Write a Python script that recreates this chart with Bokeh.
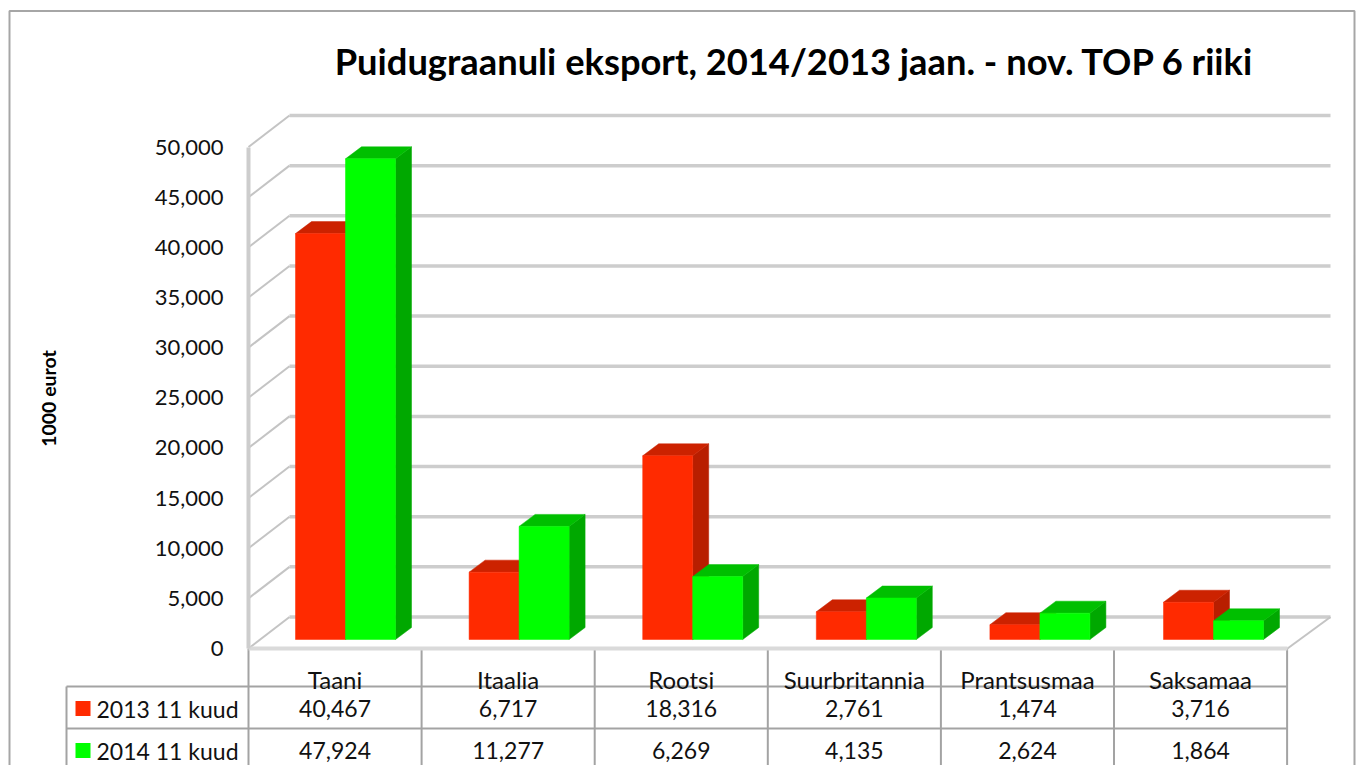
from bokeh.core.properties import value
from bokeh.embed import file_html
from bokeh.models import FixedTicker, LinearAxis, NumeralTickFormatter, Range1d
from bokeh.plotting import figure
from bokeh.resources import INLINE
import math

# ---- data ----
categories = ["Taani", "Itaalia", "Rootsi", "Suurbritannia", "Prantsusmaa", "Saksamaa"]
series_2013 = [40467, 6717, 18316, 2761, 1474, 3716]
series_2014 = [47924, 11277, 6269, 4135, 2624, 1864]
series_names = ["2013 11 kuud", "2014 11 kuud"]
y_ticks = [0, 5000, 10000, 15000, 20000, 25000, 30000, 35000, 40000, 45000, 50000]
title_text = "Puidugraanuli eksport, 2014/2013 jaan. - nov. TOP 6 riiki"
y_title = "1000 eurot"

# ---- geometry (page pixels) ----
W, H = 1361, 765
PX0, PY0 = 0, 0            # page offset of figure
AX_X, AX_Y = 248, 648      # page position of (0, 0)
SLOT = 173.1               # px per category
VPP = 1 / 0.01003          # value per px
UPP = 1 / SLOT             # category unit per px

xr = Range1d((PX0 - AX_X) * UPP, (PX0 + W - AX_X) * UPP)
yr = Range1d((AX_Y - (PY0 + H)) * VPP, (AX_Y - PY0) * VPP)

def ux(px):  # px offset from axis origin -> data
    return px * UPP

def vy(px):  # px upward from axis origin -> data
    return px * VPP

FONT = "Lato"
RED, RED_TOP, RED_SIDE = "#ff2a00", "#cc2200", "#b81e00"
GRN, GRN_TOP, GRN_SIDE = "#00ff00", "#00bf00", "#00a800"
WALL = "#cdcdcd"
TABLE = "#a3a3a3"

p = figure(width=W, height=H, x_range=xr, y_range=yr, output_backend="svg",
           toolbar_location=None, x_axis_location=None, y_axis_location=None,
           min_border=0, outline_line_color=None, background_fill_color="white",
           border_fill_color="white")
p.grid.visible = False
p.styles = {"position": "absolute", "left": "0px", "top": "0px"}

# chart frame
left, right = ux(9 - AX_X), ux(1354 - AX_X)
top, bottom = vy(AX_Y - 10.5), yr.start
p.line([left, left, right, right], [bottom, top, top, bottom], line_color="#a6a6a6", line_width=2)

# back wall grid + side wall diagonals
DX, DY = ux(41), vy(31.5)
BACK_R = ux(1330 - AX_X)
p.multi_line([[DX, BACK_R] for _ in y_ticks], [[t + DY, t + DY] for t in y_ticks],
             line_color=WALL, line_width=3.5)
p.multi_line([[0, DX] for _ in y_ticks], [[t, t + DY] for t in y_ticks],
             line_color="#c4c4c4", line_width=2)
# floor right edge
FR = ux(1287 - AX_X)
p.line([FR, BACK_R], [0, DY], line_color="#c4c4c4", line_width=2)

# bars
BAR_W = ux(50)
B0 = ux(295 - AX_X)
PITCH = 173.6 / SLOT
BASE = vy(9)
BD_X, BD_Y = ux(16), vy(12)

def bar(x0, v, front, top_c, side):
    x1 = x0 + BAR_W
    y0, y1 = BASE, BASE + v
    p.patch([x1, x1 + BD_X, x1 + BD_X, x1], [y0, y0 + BD_Y, y1 + BD_Y, y1], color=side, line_width=0.5)
    p.patch([x0, x1, x1 + BD_X, x0 + BD_X], [y1, y1, y1 + BD_Y, y1 + BD_Y], color=top_c, line_width=0.5)
    p.quad(left=x0, right=x1, bottom=y0, top=y1, fill_color=front, line_color=front, line_width=0.5)

for i, cat in enumerate(categories):
    x = B0 + i * PITCH
    bar(x, series_2013[i], RED, RED_TOP, RED_SIDE)
    bar(x + BAR_W, series_2014[i], GRN, GRN_TOP, GRN_SIDE)

# table
n = len(categories)
y_hdr, y_r1 = vy(AX_Y - 686), vy(AX_Y - 728)
T_LEFT = ux(66 - AX_X)
p.multi_line([[i, i] for i in range(n + 1)], [[0, bottom] for _ in range(n + 1)],
             line_color=TABLE, line_width=2)
p.multi_line([[T_LEFT, T_LEFT], [T_LEFT, n], [T_LEFT, n]],
             [[y_hdr, bottom], [y_hdr, y_hdr], [y_r1, y_r1]],
             line_color=TABLE, line_width=2)

y_row = [vy(AX_Y - 708), vy(AX_Y - 750)]
for j, (vals, name, col) in enumerate(zip([series_2013, series_2014], series_names, [RED, GRN])):
    p.text([k + 0.5 for k in range(n)], [y_row[j]] * n, text=[f"{v:,}" for v in vals],
           text_font=value(FONT), text_font_size="23px", text_color="#111111",
           text_align="center", text_baseline="middle")
    p.text([ux(96 - AX_X)], [y_row[j]], text=[name], text_font=value(FONT), text_font_size="23px",
           text_color="#111111", text_align="left", text_baseline="middle")
    p.quad(left=ux(75 - AX_X), right=ux(90 - AX_X), bottom=y_row[j] - vy(7.5), top=y_row[j] + vy(7.5),
           fill_color=col, line_color=None)

# real axes, pinned to the front corner of the 3-D box
yax = LinearAxis(fixed_location=0, ticker=FixedTicker(ticks=y_ticks), bounds=(0, 50000),
                 formatter=NumeralTickFormatter(format="0,0"))
yax.axis_line_color = WALL
yax.axis_line_width = 4
yax.major_tick_line_color = None
yax.minor_tick_line_color = None
yax.major_label_standoff = 19
yax.major_label_text_font = FONT
yax.major_label_text_font_size = "22px"
yax.major_label_text_color = "#111111"
p.add_layout(yax, "left")

xax = LinearAxis(fixed_location=0, ticker=FixedTicker(ticks=[i + 0.5 for i in range(n)]),
                 bounds=(0, n),
                 major_label_overrides={i + 0.5: c for i, c in enumerate(categories)})
xax.axis_line_color = "#dadada"
xax.axis_line_width = 4
xax.major_tick_line_color = None
xax.minor_tick_line_color = None
xax.major_label_standoff = 10
xax.major_label_text_font = FONT
xax.major_label_text_font_size = "24px"
xax.major_label_text_color = "#111111"
p.add_layout(xax, "below")

# titles
p.text([ux(794 - AX_X)], [vy(AX_Y - 60)], text=[title_text], text_font=value(FONT),
       text_font_size="36.3px", text_font_style="bold", text_color="#000000",
       text_align="center", text_baseline="middle")
p.text([ux(48 - AX_X)], [vy(AX_Y - 398)], text=[y_title], text_font=value(FONT),
       text_font_size="19.5px", text_font_style="bold", text_color="#000000",
       text_align="center", text_baseline="middle", angle=math.pi / 2)

open("out.html", "w").write(file_html(p, INLINE))
